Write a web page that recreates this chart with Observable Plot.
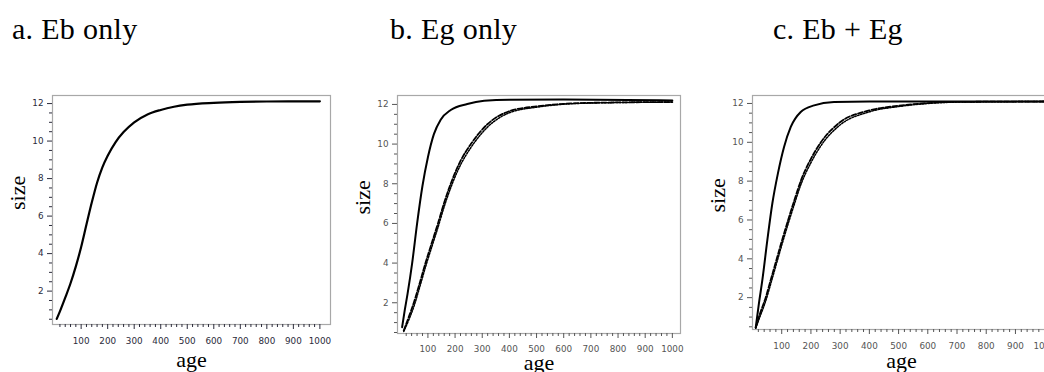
<!DOCTYPE html>
<html><head><meta charset="utf-8">
<script src="https://cdn.jsdelivr.net/npm/d3@7"></script>
<script src="https://cdn.jsdelivr.net/npm/@observablehq/plot@0.6"></script>
<style>
html,body{margin:0;padding:0;background:#fff;}
#root{position:relative;width:1044px;height:372px;overflow:hidden;background:#fff;}
.title{position:absolute;top:14px;font-family:"Liberation Serif",Tinos,"Times New Roman",Times,"DejaVu Serif","Noto Serif",serif;font-size:30px;letter-spacing:0.3px;color:#000;white-space:nowrap;line-height:1;}
.panel{position:absolute;top:85px;height:287px;}
.panel svg{max-width:none !important;}
</style></head><body><div id="root"></div>
<script>
// ---- data ----
const titles = ["a. Eb only", "b. Eg only", "c. Eb + Eg"];
const xMajorTicks = [100, 200, 300, 400, 500, 600, 700, 800, 900, 1000];
const yMajorTicks = [2, 4, 6, 8, 10, 12];
const xLabel = "age";
const yLabel = "size";

// a. Eb only
const ageA  = [8, 20, 40, 60, 80, 100, 120, 140, 160, 180, 200, 230, 260, 300, 350, 400, 450, 500, 600, 700, 800, 1000];
const sizeA = [0.52, 0.92, 1.65, 2.42, 3.32, 4.35, 5.55, 6.72, 7.78, 8.60, 9.22, 9.95, 10.48, 11.0, 11.42, 11.66, 11.83, 11.94, 12.04, 12.09, 12.11, 12.12];

// b. Eg only
const ageBfast  = [5, 15, 25, 42, 60, 80, 100, 122, 147, 184, 245, 307, 400, 600, 1000];
const sizeBfast = [0.77, 1.65, 2.45, 4.0, 5.98, 7.9, 9.34, 10.5, 11.23, 11.72, 12.02, 12.18, 12.24, 12.25, 12.2];
const ageBslow   = [11, 30, 48, 70, 91, 115, 137, 160, 184, 220, 258, 319, 400, 500, 600, 700, 1000];
const sizeBslow1 = [0.60, 1.30, 2.0, 3.0, 4.0, 5.05, 6.0, 7.05, 8.0, 9.15, 10.0, 11.0, 11.66, 11.9, 12.03, 12.08, 12.12];
const sizeBslow2 = [0.55, 1.15, 1.8, 2.8, 3.8, 4.85, 5.8, 6.85, 7.8, 8.95, 9.82, 10.85, 11.58, 11.86, 12.01, 12.07, 12.12];

// c. Eb + Eg
const ageCfast  = [11, 22, 34, 51, 68, 87, 108, 131, 165, 211, 279, 400, 1000];
const sizeCfast = [0.46, 1.7, 2.94, 4.99, 6.86, 8.4, 9.76, 10.79, 11.56, 11.9, 12.07, 12.1, 12.1];
const ageCslow   = [11, 25, 45, 65, 83, 102, 122, 143, 165, 200, 234, 297, 400, 500, 600, 700, 1000];
const sizeCslow1 = [0.46, 1.15, 2.0, 3.05, 4.0, 5.0, 6.0, 7.0, 8.0, 9.15, 10.0, 11.0, 11.64, 11.88, 12.02, 12.08, 12.1];
const sizeCslow2 = [0.42, 1.0, 1.82, 2.85, 3.8, 4.8, 5.8, 6.8, 7.8, 8.95, 9.82, 10.86, 11.57, 11.84, 12.0, 12.07, 12.1];

const toRows = (ages, sizes) => ages.map((a, i) => ({age: a, size: sizes[i]}));
const xMinorTicks = d3.range(20, 1001, 20).filter(v => !xMajorTicks.includes(v));
const yMinorTicks = d3.range(0.5, 12.01, 0.5).filter(v => !yMajorTicks.includes(v));

const root = document.getElementById("root");
const titleLeft = [12, 390, 773];
titles.forEach((t, i) => {
  const d = document.createElement("div");
  d.className = "title";
  d.style.left = titleLeft[i] + "px";
  d.textContent = t;
  root.appendChild(d);
});

const tickFont = "'DejaVu Sans', Verdana, sans-serif";
const serif = "'Liberation Serif', Tinos, 'Times New Roman', Times, 'DejaVu Serif', 'Noto Serif', serif";

function panel(cfg) {
  const marks = [
    Plot.frame({stroke: "#a8a8a8", strokeWidth: 1.2}),
    Plot.axisX(xMajorTicks, {anchor: "bottom", tickSize: 5, tickPadding: cfg.xPad, fontSize: 8.8, fontFamily: tickFont, color: cfg.tickColor, tickFormat: d => String(d), label: null}),
    Plot.axisX(xMinorTicks, {anchor: "bottom", tickSize: 3, tickFormat: () => "", color: cfg.tickColor, label: null}),
    Plot.axisY(yMajorTicks, {anchor: "left", tickSize: 5, tickPadding: 4, fontSize: 8.8, fontFamily: tickFont, color: cfg.tickColor, tickFormat: d => String(d), label: null}),
    Plot.axisY(yMinorTicks, {anchor: "left", tickSize: 3, tickFormat: () => "", color: cfg.tickColor, label: null}),
    ...cfg.lines.map(l => Plot.line(l.rows, {x: "age", y: "size", stroke: "#000", strokeWidth: l.width, strokeDasharray: l.dash, curve: "monotone-x"})),
    Plot.text([xLabel], {frameAnchor: "bottom", text: d => d, dy: cfg.xLabelDy, fontSize: 22, fontFamily: serif, fill: "#000"}),
    Plot.text([yLabel], {frameAnchor: "left", text: d => d, dx: -35, rotate: -90, fontSize: 22, fontFamily: serif, fill: "#000"})
  ];
  const svg = Plot.plot({
    width: cfg.width, height: 287,
    marginLeft: 52, marginRight: 15, marginTop: 10, marginBottom: cfg.marginBottom,
    x: {domain: cfg.xDomain, axis: null},
    y: {domain: cfg.yDomain, axis: null},
    style: {background: "transparent", overflow: "visible", maxWidth: "none"},
    marks
  });
  const wrap = document.createElement("div");
  wrap.className = "panel";
  wrap.style.left = cfg.left + "px";
  wrap.style.width = cfg.width + "px";
  wrap.appendChild(svg);
  root.appendChild(wrap);
}

panel({
  left: 0, width: 345, marginBottom: 48, xDomain: [-8, 1040], yDomain: [0.22, 12.43], xPad: 8, xLabelDy: 42, tickColor: "#2b2b3b",
  lines: [{rows: toRows(ageA, sizeA), width: 2.2}]
});
panel({
  left: 345, width: 350, marginBottom: 39, xDomain: [-12, 1030], yDomain: [0.45, 12.45], xPad: 7, xLabelDy: 36, tickColor: "#555",
  lines: [
    {rows: toRows(ageBslow, sizeBslow2), width: 1.5, dash: "1.5,1.5"},
    {rows: toRows(ageBslow, sizeBslow1), width: 1.8, dash: "5,2"},
    {rows: toRows(ageBfast, sizeBfast), width: 2}
  ]
});
panel({
  left: 700, width: 365, marginBottom: 43, xDomain: [0, 1020], yDomain: [0.36, 12.41], xPad: 8, xLabelDy: 38, tickColor: "#555",
  lines: [
    {rows: toRows(ageCslow, sizeCslow2), width: 1.5, dash: "1.5,1.5"},
    {rows: toRows(ageCslow, sizeCslow1), width: 1.8, dash: "5,2"},
    {rows: toRows(ageCfast, sizeCfast), width: 2}
  ]
});
</script></body></html>
